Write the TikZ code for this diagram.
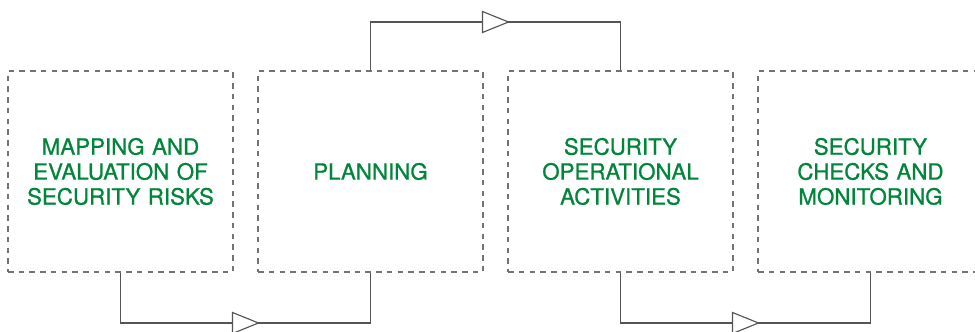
\documentclass[tikz,border=0pt]{standalone}
\usepackage{fontspec}
\setmainfont{TeX Gyre Heros}
\newfontfamily\stagefont{TeX Gyre Heros}[FakeBold=0.9]
\usetikzlibrary{decorations.markings}

\definecolor{stagegreen}{RGB}{0,133,58}
\definecolor{boxgray}{RGB}{115,115,115}
\definecolor{linegray}{RGB}{85,85,85}

\tikzset{
  stagebox/.style={draw=boxgray, line width=0.6pt, dash pattern=on 0.11cm off 0.105cm,
    minimum width=4.5cm, minimum height=4.02cm, inner sep=0pt,
    text=stagegreen, align=center, text width=4.3cm,
    font=\stagefont\fontsize{12.7}{14.2}\selectfont},
  flowline/.style={draw=linegray, line width=0.65pt, postaction={decorate},
    decoration={markings, mark=at position 0.5 with {
      \draw[linegray, line width=0.65pt, fill=white] (-0.26,0.21) -- (0.26,0) -- (-0.26,-0.21) -- cycle;}}}
}

\begin{document}
\begin{tikzpicture}
\useasboundingbox (0,0) rectangle (19.5,6.64);

% Levels of the connectors
\coordinate (bottomline) at (0,0.18);
\coordinate (topline) at (0,6.2);

% Stages
\node[stagebox] (mapping) at (2.41,3.21) {MAPPING AND\\EVALUATION OF\\SECURITY RISKS};
\node[stagebox] (planning) at (7.41,3.21) {PLANNING};
\node[stagebox] (operations) at (12.41,3.21) {SECURITY\\OPERATIONAL\\ACTIVITIES};
\node[stagebox] (checks) at (17.41,3.21) {SECURITY\\CHECKS AND\\MONITORING};

% Connectors
\draw[flowline] (mapping.south) -- (mapping.south |- bottomline) -- (planning.south |- bottomline) -- (planning.south);
\draw[flowline] (planning.north) -- (planning.north |- topline) -- (operations.north |- topline) -- (operations.north);
\draw[flowline] (operations.south) -- (operations.south |- bottomline) -- (checks.south |- bottomline) -- (checks.south);

\end{tikzpicture}
\end{document}
